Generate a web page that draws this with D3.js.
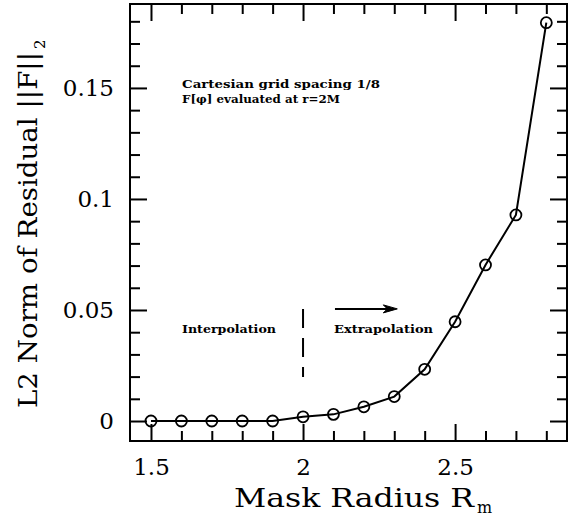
<!DOCTYPE html>
<html>
<head>
<meta charset="utf-8">
<script src="https://cdn.jsdelivr.net/npm/d3@7"></script>
<style>
  body { margin: 0; background: #fff; }
  svg { display: block; }
</style>
</head>
<body>
<svg id="canvas" width="574" height="518"></svg>
<script>
// mask radius values and L2 norm of the residual
let radius = [1.5, 1.6, 1.7, 1.8, 1.9, 2.0, 2.1, 2.2, 2.3, 2.4, 2.5, 2.6, 2.7, 2.8]
let residual = [0, 0, 0, 0, 0, 0.0019, 0.0030, 0.0064, 0.0110, 0.0233, 0.0447, 0.0703, 0.0928, 0.1794]

let xMajor = [1.5, 2, 2.5]
let xLabels = ['1.5', '2', '2.5']
let yMajor = [0, 0.05, 0.1, 0.15]
let yLabels = ['0', '0.05', '0.1', '0.15']
let xMinor = [1.6, 1.7, 1.8, 1.9, 2.1, 2.2, 2.3, 2.4, 2.6, 2.7, 2.8]
let yMinor = [0.01, 0.02, 0.03, 0.04, 0.06, 0.07, 0.08, 0.09, 0.11, 0.12, 0.13, 0.14, 0.16, 0.17, 0.18]

let noteLines = ['Cartesian grid spacing 1/8', 'F[\u03C6] evaluated at r=2M']

let plotLeft = 130, plotRight = 567, plotTop = 4, plotBottom = 441
let serif = '"DejaVu Serif", serif'

let canvas = d3.select('#canvas')

let x = d3.scaleLinear().domain([1.431, 2.868]).range([plotLeft, plotRight])
let y = d3.scaleLinear().domain([-0.009, 0.1878]).range([plotBottom, plotTop])

let drawAxis = (axis, tx, ty) => {
  let g = canvas.append('g')
                .attr('transform', 'translate(' + tx + ',' + ty + ')')
                .call(axis)
  g.select('.domain').remove()
  g.selectAll('line').attr('stroke', '#000').attr('stroke-width', 2)
  g.attr('font-family', serif).attr('font-size', 23)
  return g
}

// major and minor ticks on all four sides, pointing inwards
let bx = drawAxis(d3.axisBottom(x).tickValues(xMajor).tickSizeInner(-17).tickSizeOuter(0)
                   .tickFormat((d, i) => xLabels[i]), 0, plotBottom)
bx.selectAll('text').attr('y', 34).attr('dy', null).attr('fill', '#000')
drawAxis(d3.axisBottom(x).tickValues(xMinor).tickSizeInner(-10).tickSizeOuter(0).tickFormat(''), 0, plotBottom)
drawAxis(d3.axisTop(x).tickValues(xMajor).tickSizeInner(-17).tickSizeOuter(0).tickFormat(''), 0, plotTop)
drawAxis(d3.axisTop(x).tickValues(xMinor).tickSizeInner(-10).tickSizeOuter(0).tickFormat(''), 0, plotTop)

let ly = drawAxis(d3.axisLeft(y).tickValues(yMajor).tickSizeInner(-17).tickSizeOuter(0).tickPadding(16)
                   .tickFormat((d, i) => yLabels[i]), plotLeft, 0)
ly.selectAll('text').attr('fill', '#000')
drawAxis(d3.axisLeft(y).tickValues(yMinor).tickSizeInner(-10).tickSizeOuter(0).tickFormat(''), plotLeft, 0)
drawAxis(d3.axisRight(y).tickValues(yMajor).tickSizeInner(-17).tickSizeOuter(0).tickFormat(''), plotRight, 0)
drawAxis(d3.axisRight(y).tickValues(yMinor).tickSizeInner(-10).tickSizeOuter(0).tickFormat(''), plotRight, 0)

canvas.append('rect')
      .attr('x', plotLeft)
      .attr('y', plotTop)
      .attr('width', plotRight - plotLeft)
      .attr('height', plotBottom - plotTop)
      .attr('fill', 'none')
      .attr('stroke', '#000')
      .attr('stroke-width', 2)

// data curve
let points = radius.map((r, i) => [r, residual[i]])

canvas.append('path')
      .datum(points)
      .attr('fill', 'none')
      .attr('stroke', '#000')
      .attr('stroke-width', 2)
      .attr('d', d3.line().x((p) => x(p[0])).y((p) => y(p[1])))

canvas.selectAll('circle')
      .data(points)
      .enter()
      .append('circle')
      .attr('cx', (p) => x(p[0]))
      .attr('cy', (p) => y(p[1]))
      .attr('r', 5.5)
      .attr('fill', 'none')
      .attr('stroke', '#000')
      .attr('stroke-width', 1.8)

// annotations
canvas.selectAll('.note')
      .data(noteLines)
      .enter()
      .append('text')
      .attr('class', 'note')
      .attr('x', x(1.602))
      .attr('y', (d, i) => y(0.15) + i * 15)
      .attr('font-family', serif)
      .attr('font-weight', 'bold')
      .attr('font-size', 11)
      .attr('textLength', (d, i) => i === 0 ? 198 : 158)
      .attr('lengthAdjust', 'spacingAndGlyphs')
      .text((d) => d)

canvas.append('text')
      .attr('x', x(1.602))
      .attr('y', y(0.0396))
      .attr('font-family', serif)
      .attr('font-weight', 'bold')
      .attr('font-size', 11)
      .attr('textLength', 94)
      .attr('lengthAdjust', 'spacingAndGlyphs')
      .text('Interpolation')

canvas.append('text')
      .attr('x', x(2.102))
      .attr('y', y(0.0396))
      .attr('font-family', serif)
      .attr('font-weight', 'bold')
      .attr('font-size', 11)
      .attr('textLength', 99)
      .attr('lengthAdjust', 'spacingAndGlyphs')
      .text('Extrapolation')

canvas.append('line')
      .attr('x1', x(2.0))
      .attr('x2', x(2.0))
      .attr('y1', y(0.0505))
      .attr('y2', y(0.0198))
      .attr('stroke', '#000')
      .attr('stroke-width', 2)
      .attr('stroke-dasharray', '19,10')

let ay = y(0.0505)
canvas.append('line')
      .attr('x1', x(2.105))
      .attr('x2', x(2.29))
      .attr('y1', ay)
      .attr('y2', ay)
      .attr('stroke', '#000')
      .attr('stroke-width', 2)
let tip = x(2.31)
canvas.append('path')
      .attr('d', 'M' + tip + ',' + ay + 'L' + (tip - 14) + ',' + (ay - 4) + 'L' + (tip - 10) + ',' + ay +
                 'L' + (tip - 14) + ',' + (ay + 4) + 'Z')
      .attr('fill', '#000')
      .attr('stroke', '#000')
      .attr('stroke-width', 1)

// axis titles
canvas.append('text')
      .attr('x', 234)
      .attr('y', 507)
      .attr('font-family', serif)
      .attr('font-size', 26)
      .attr('textLength', 240)
      .attr('lengthAdjust', 'spacingAndGlyphs')
      .text('Mask Radius R')
canvas.append('text')
      .attr('x', 477)
      .attr('y', 513)
      .attr('font-family', serif)
      .attr('font-size', 16)
      .text('m')

let yTitle = canvas.append('g')
                   .attr('transform', 'translate(37,408) rotate(-90)')
yTitle.append('text')
      .attr('x', 0)
      .attr('y', 0)
      .attr('font-family', serif)
      .attr('font-size', 26)
      .attr('textLength', 356)
      .attr('lengthAdjust', 'spacingAndGlyphs')
      .text('L2 Norm of Residual ||F||')
yTitle.append('text')
      .attr('x', 359)
      .attr('y', 8)
      .attr('font-family', serif)
      .attr('font-size', 15)
      .text('2')
</script>
</body>
</html>
